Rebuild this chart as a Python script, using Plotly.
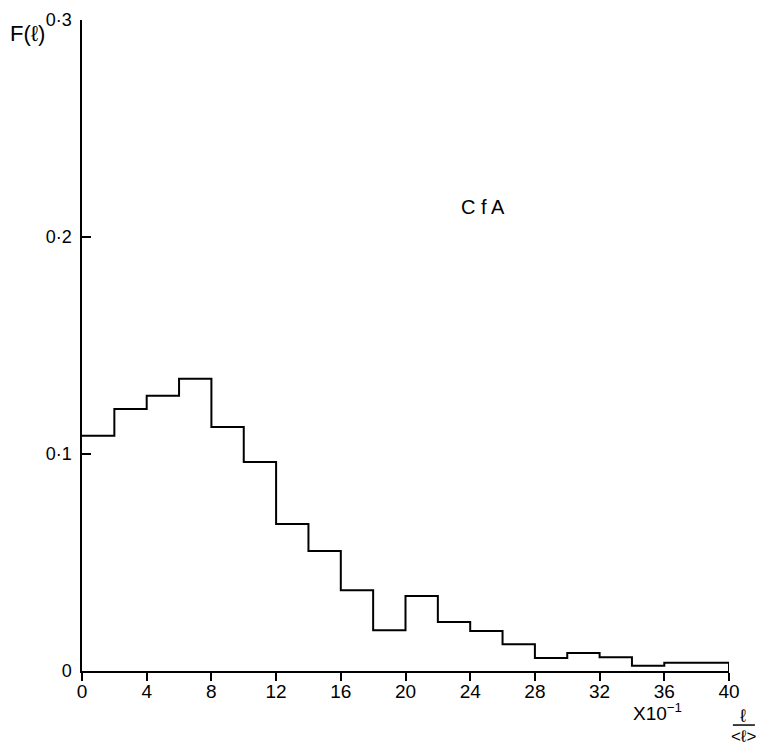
import plotly.graph_objects as go

bin_edges = [0, 2, 4, 6, 8, 10, 12, 14, 16, 18, 20, 22, 24, 26, 28, 30, 32, 34, 36, 38, 40]
freq = [0.1084, 0.1207, 0.1269, 0.1347, 0.1124, 0.0963, 0.0677, 0.0553, 0.0372, 0.0188,
        0.0346, 0.0226, 0.0184, 0.0123, 0.0060, 0.0083, 0.0063, 0.0024, 0.0038, 0.0038]
x_ticks = [0, 4, 8, 12, 16, 20, 24, 28, 32, 36, 40]
x_labels = ["0", "4", "8", "12", "16", "20", "24", "28", "32", "36", "40"]
y_ticks = [0, 0.1, 0.2, 0.3]
y_labels = ["0", "0·1", "0·2", "0·3"]
label = "C f A"

FONT = "Liberation Sans"

xs = list(bin_edges) + [bin_edges[-1]]
ys = list(freq) + [freq[-1], 0]

fig = go.Figure()
fig.add_trace(go.Scatter(x=xs, y=ys, mode="lines", line=dict(shape="hv", color="black", width=2),
                         showlegend=False, hoverinfo="skip"))

fig.update_layout(
    width=757, height=738,
    margin=dict(l=74, r=36, t=12, b=75, autoexpand=False),
    paper_bgcolor="white", plot_bgcolor="white",
    font=dict(family=FONT, size=17, color="black"),
    xaxis=dict(range=[0, 40], tickvals=x_ticks, ticktext=x_labels, showgrid=False, zeroline=False,
               showline=True, linecolor="black", linewidth=1.5, ticks="outside", ticklen=8,
               tickwidth=1.5, tickcolor="black", tickfont=dict(family=FONT, size=19),
               ticklabelstandoff=-6, automargin=False),
    yaxis=dict(range=[0, 0.3], tickvals=y_ticks, ticktext=y_labels, showgrid=False, zeroline=False,
               showline=True, linecolor="black", linewidth=1.5, ticks="inside", ticklen=9,
               tickwidth=1.5, tickcolor="black", tickfont=dict(family=FONT, size=18),
               ticklabelstandoff=5, automargin=False),
)

def note(x, y, text, size, xref="paper", yref="paper"):
    fig.add_annotation(x=x, y=y, xref=xref, yref=yref, text=text, showarrow=False,
                       xanchor="center", yanchor="middle", font=dict(family=FONT, size=size))

note(24.8, 0.2138, label, 20, xref="x", yref="y")
note(-0.0835, 0.9785, "F(ℓ)", 22)
note(0.889, -0.063, "X10<sup>−1</sup>", 19)
note(1.0216, -0.069, "ℓ", 18)
note(1.022, -0.100, "&lt;ℓ&gt;", 17)
fig.add_shape(type="line", xref="paper", yref="paper", x0=1.006, x1=1.040, y0=-0.083, y1=-0.083,
              line=dict(color="black", width=1.5))

fig.write_html("out.html")
